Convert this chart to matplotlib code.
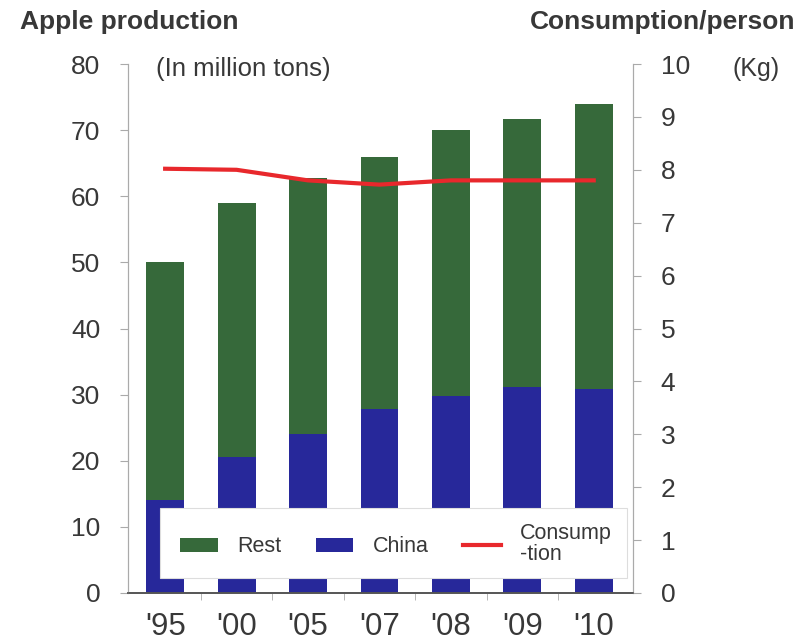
import matplotlib
matplotlib.use("Agg")
import matplotlib.pyplot as plt
from matplotlib.patches import Rectangle, Patch
from matplotlib.lines import Line2D
import numpy as np

plt.rcParams['font.family'] = ['Liberation Sans', 'DejaVu Sans']

years = ["'95", "'00", "'05", "'07", "'08", "'09", "'10"]
china = [14, 20.5, 24, 27.8, 29.8, 31.2, 30.9]
total = [50, 59, 62.8, 66, 70, 71.7, 74]
rest = [t - c for t, c in zip(total, china)]
consumption = [8.02, 8.0, 7.8, 7.72, 7.8, 7.8, 7.8]

GREEN = '#36693a'
BLUE = '#27289a'
RED = '#e8282c'
TXT = '#383838'

fig = plt.figure(figsize=(8.01, 6.41), dpi=100)
ax = fig.add_axes([128/801, 1-593/641, (633-128)/801, (593-64)/641])
ax2 = ax.twinx()

x = np.arange(len(years))
ax.bar(x, china, width=0.53, color=BLUE, zorder=2)
ax.bar(x, rest, bottom=china, width=0.53, color=GREEN, zorder=2)
ax.set_ylim(0, 80)
ax.set_xlim(-0.52, 6.55)
ax.set_yticks(range(0, 81, 10))
ax.set_xticks(x)
ax.set_xticklabels(years)
ax.set_xticks(x[:-1] + 0.5, minor=True)
ax.tick_params(axis='x', which='major', length=0, pad=14, labelsize=22.5, labelcolor=TXT)
ax.tick_params(axis='x', which='minor', length=5, color='#aaaaaa', direction='out')
ax.tick_params(axis='y', length=6, color='#aaaaaa', pad=14, labelsize=19, labelcolor=TXT)

ax2.plot(x, consumption, color=RED, lw=3, zorder=3)
ax2.set_ylim(0, 10)
ax2.set_yticks(range(0, 11))
ax2.tick_params(axis='y', length=6, color='#aaaaaa', pad=14, labelsize=19, labelcolor=TXT)

for a in (ax, ax2):
    a.spines['top'].set_visible(False)
    a.spines['left'].set_color('#aaaaaa')
    a.spines['right'].set_color('#aaaaaa')
    a.spines['bottom'].set_color('#555555')
    a.spines['bottom'].set_linewidth(1.2)

# legend box
ax2.add_patch(Rectangle((0.063, 0.028), 0.925, 0.133, transform=ax2.transAxes,
                        facecolor='white', edgecolor='#dddddd', lw=0.8, zorder=5))
handles = [Patch(facecolor=GREEN), Patch(facecolor=BLUE), Line2D([], [], color=RED, lw=3)]
leg = ax2.legend(handles, ['Rest', 'China', 'Consump\n-tion'], ncol=3, frameon=False,
                 loc='center left', bbox_to_anchor=(0.082, 0.092), borderpad=0,
                 fontsize=15.5, handlelength=1.75, handleheight=0.6, handletextpad=0.9,
                 columnspacing=1.6, labelspacing=0.2)
leg.set_zorder(6)
for t in leg.get_texts():
    t.set_color(TXT)
    t.set_linespacing(1.0)

fig.text(20/801, 1-22/641, 'Apple production', fontsize=19, fontweight='bold', color=TXT,
         ha='left', va='center')
fig.text(795/801, 1-22/641, 'Consumption/person', fontsize=19, fontweight='bold', color=TXT,
         ha='right', va='center')
fig.text(156/801, 1-69/641, '(In million tons)', fontsize=18.5, color=TXT, ha='left', va='center')
fig.text(733/801, 1-69/641, '(Kg)', fontsize=18, color=TXT, ha='left', va='center')

fig.savefig('out.png', dpi=100)
